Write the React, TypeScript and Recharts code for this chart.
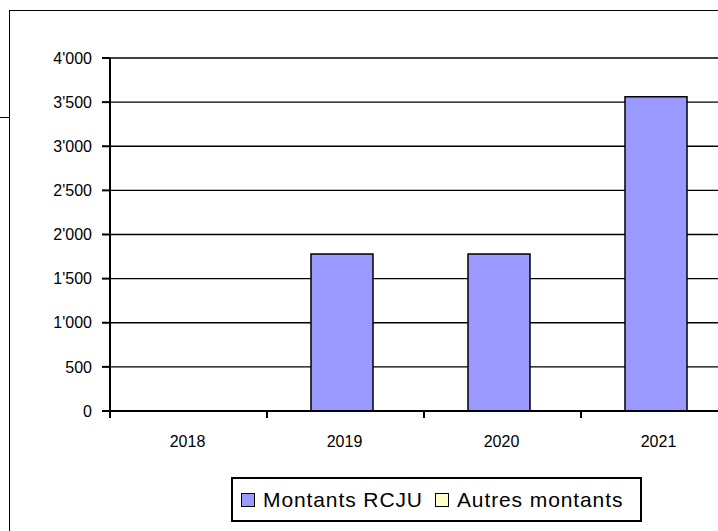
import { BarChart, Bar, XAxis, YAxis, CartesianGrid, Rectangle } from 'recharts'

const years = ['2018', '2019', '2020', '2021']
const montantsRcju = [0, 1780, 1780, 3560]
const autresMontants = [0, 0, 0, 0]

const yTicks = [0, 500, 1000, 1500, 2000, 2500, 3000, 3500, 4000]
const yTickLabels = ['0', '500', "1'000", "1'500", "2'000", "2'500", "3'000", "3'500", "4'000"]

const SERIES = [
  { key: 'rcju',   name: 'Montants RCJU',   fill: '#9999FF' },
  { key: 'autres', name: 'Autres montants', fill: '#FFFFCC' },
]

const data = years.map((y, i) => ({ year: y, rcju: montantsRcju[i], autres: autresMontants[i] }))

const FONT = '"Liberation Sans", Arial, sans-serif'
const CHART_W = 758
const CHART_H = 531
const M = { top: 58, right: 20, bottom: 90, left: 0 }
const Y_W = 110
const BAND = (CHART_W - M.left - M.right - Y_W) / years.length

// tick mark on the category boundary, label in the middle
function XTick({ x, y, payload }: any) {
  const left = x - BAND / 2
  return (
    <g>
      <line x1={left} x2={left} y1={y - 8} y2={y - 1} stroke="#000" strokeWidth={2} />
      <text x={x - 1} y={y + 28} textAnchor="middle" fontFamily={FONT} fontSize={16} fill="#000">
        {payload.value}
      </text>
    </g>
  )
}

// Excel leaves room for the (empty) second series, so bars sit a bit left of centre
function ShiftedBar(props: any) {
  return <Rectangle {...props} x={props.x - 4} />
}

function fmtY(v: number) {
  const i = yTicks.indexOf(v)
  return i >= 0 ? yTickLabels[i] : String(v)
}

export default function App() {
  return (
    <div style={{ position: 'fixed', left: 0, top: 0, width: 718, height: 531, overflow: 'hidden', background: '#fff' }}>
      {/* outer frame, runs past the right/bottom edge */}
      <div style={{ position: 'absolute', left: 9, top: 10, width: 740, height: 560, border: '1px solid #000' }} />
      <div style={{ position: 'absolute', left: 0, top: 117, width: 10, height: 1, background: '#000' }} />

      <div style={{ position: 'absolute', left: 0, top: 0 }}>
        <BarChart width={CHART_W} height={CHART_H} data={data} margin={M} barSize={62}>
          <CartesianGrid vertical={false} stroke="#000" strokeWidth={1.3} />
          <XAxis
            dataKey="year"
            axisLine={{ stroke: '#000', strokeWidth: 2 }}
            tickLine={false}
            tick={<XTick />}
            interval={0}
            height={30}
          />
          <YAxis
            domain={[0, 4000]}
            ticks={yTicks}
            tickFormatter={fmtY}
            width={Y_W}
            axisLine={{ stroke: '#000', strokeWidth: 2 }}
            tickLine={{ stroke: '#000', strokeWidth: 2 }}
            tickSize={8}
            tickMargin={10}
            tick={{ fontFamily: FONT, fontSize: 16, fill: '#000' }}
            interval={0}
          />
          {SERIES.map(s => (
            <Bar key={s.key} dataKey={s.key} name={s.name} stackId="a" shape={<ShiftedBar />}
              fill={s.fill} stroke="#000" strokeWidth={1.5} isAnimationActive={false} />
          ))}
        </BarChart>
      </div>

      <div style={{
        position: 'absolute', left: 231, top: 477, width: 407, height: 41,
        border: '2px solid #000', display: 'flex', alignItems: 'center',
        fontFamily: FONT, fontSize: 21, color: '#000', boxSizing: 'content-box',
      }}>
        {SERIES.map((s, i) => (
          <span key={s.key} style={{ display: 'flex', alignItems: 'center', marginLeft: i === 0 ? 8 : 12 }}>
            <span style={{ width: 12, height: 12, background: s.fill, border: '1.5px solid #000', marginRight: 8 }} />
            <span style={{ letterSpacing: 0.9 }}>{s.name}</span>
          </span>
        ))}
      </div>
    </div>
  )
}
